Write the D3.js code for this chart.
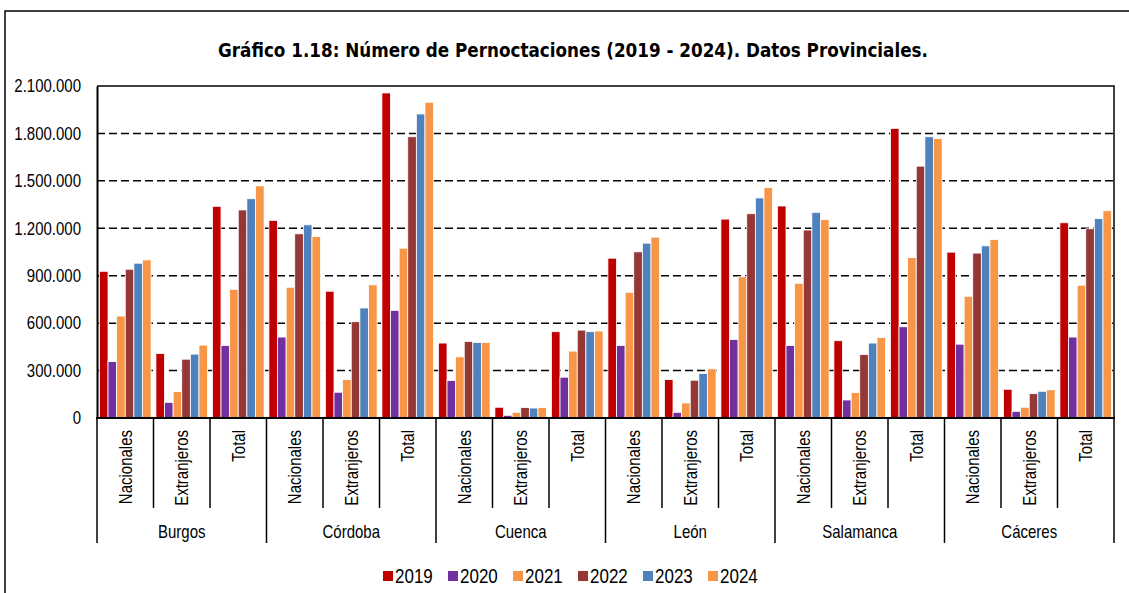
<!DOCTYPE html>
<html>
<head>
<meta charset="utf-8">
<script src="https://cdn.jsdelivr.net/npm/d3@7"></script>
<style>
  body { margin: 0; background: #fff; }
  svg text { font-family: "Liberation Sans", Arial, sans-serif; fill: #000; }
</style>
</head>
<body>
<svg id="chart" width="1129" height="593"></svg>
<script>
// categories
var provinces = ['Burgos', 'Córdoba', 'Cuenca', 'León', 'Salamanca', 'Cáceres'];
var types = ['Nacionales', 'Extranjeros', 'Total'];
var years = ['2019', '2020', '2021', '2022', '2023', '2024'];
var yTicks = [0, 300000, 600000, 900000, 1200000, 1500000, 1800000, 2100000];

// values, province by province, in the order Nacionales / Extranjeros / Total
var v2019 = [928000, 408000, 1339000, 1250000, 802000, 2056000, 474000, 68000, 546000,
  1011000, 243000, 1258000, 1341000, 489000, 1832000, 1049000, 182000, 1235000];
var v2020 = [357000, 99000, 459000, 512000, 163000, 681000, 237000, 17000, 258000,
  459000, 36000, 497000, 459000, 114000, 577000, 467000, 42000, 512000];
var v2021 = [645000, 167000, 814000, 827000, 243000, 1074000, 387000, 36000, 423000,
  795000, 95000, 893000, 852000, 161000, 1015000, 770000, 68000, 840000];
var v2022 = [941000, 372000, 1316000, 1165000, 609000, 1779000, 484000, 66000, 556000,
  1051000, 239000, 1292000, 1189000, 402000, 1593000, 1043000, 154000, 1197000];
var v2023 = [979000, 404000, 1387000, 1222000, 696000, 1923000, 478000, 63000, 546000,
  1106000, 281000, 1392000, 1301000, 474000, 1779000, 1089000, 169000, 1261000];
var v2024 = [1000000, 461000, 1468000, 1148000, 842000, 1997000, 478000, 66000, 550000,
  1144000, 311000, 1457000, 1256000, 510000, 1768000, 1129000, 178000, 1311000];

var series = [v2019, v2020, v2021, v2022, v2023, v2024];
var colors = ['#c00000', '#7030a0', '#f79646', '#953735', '#4f81bd', '#f79646'];

// the source text is drawn a little taller than wide
var stretch = 'scale(1,1.2)';

function drawChart() {
  var svg = d3.select('#chart');
  var plotLeft = 97, plotRight = 1114, plotTop = 86, plotBottom = 418;

  // outer frame (top + left only)
  svg.append('path')
    .attr('d', 'M5,593 L5,11 L1129,11')
    .attr('fill', 'none')
    .attr('stroke', '#000')
    .attr('stroke-width', 1.5);

  // title
  var title = svg.append('text')
    .attr('transform', 'translate(573,50) ' + stretch)
    .attr('dy', '0.36em')
    .attr('text-anchor', 'middle')
    .style('font-family', '"DejaVu Sans", Verdana, sans-serif')
    .style('font-weight', 'bold')
    .style('font-size', '14px')
    .text('Gráfico 1.18: Número de Pernoctaciones (2019 - 2024). Datos Provinciales.');
  var tw = title.node().getComputedTextLength();
  title.style('font-size', (14 * 710 / tw).toFixed(2) + 'px');

  // category list
  var cats = [];
  provinces.forEach((p) => {
    types.forEach((t) => {
      cats.push({ prov: p, type: t, key: p + '|' + t });
    });
  });

  var x0 = d3.scaleBand().domain(cats.map((c) => c.key)).range([plotLeft, plotRight]).padding(0);
  var x1 = d3.scaleBand().domain(years).range([0, x0.bandwidth()]).paddingInner(0).paddingOuter(0.28);
  var y = d3.scaleLinear().domain([0, 2100000]).range([plotBottom, plotTop]);

  var locale = d3.formatLocale({ decimal: ',', thousands: '.', grouping: [3], currency: ['', ''] });
  var fmt = locale.format(',d');

  // gridlines
  svg.append('g')
    .selectAll('line')
    .data(yTicks.filter((t) => t > 0 && t < 2100000))
    .join('line')
    .attr('x1', plotLeft)
    .attr('x2', plotRight)
    .attr('y1', (d) => y(d))
    .attr('y2', (d) => y(d))
    .attr('stroke', '#000')
    .attr('stroke-width', 1.5)
    .attr('stroke-dasharray', '8,4');

  // bars
  var rows = [];
  cats.forEach((c, i) => {
    years.forEach((yr, j) => {
      rows.push({ key: c.key, year: yr, value: series[j][i], color: colors[j] });
    });
  });

  svg.append('g')
    .selectAll('rect')
    .data(rows)
    .join('rect')
    .attr('x', (d) => x0(d.key) + x1(d.year))
    .attr('y', (d) => y(d.value))
    .attr('width', x1.bandwidth())
    .attr('height', (d) => y(0) - y(d.value))
    .attr('fill', (d) => d.color)
    .attr('stroke', '#fff')
    .attr('stroke-width', 0.8);

  // plot frame
  svg.append('path')
    .attr('d', `M${plotLeft},${plotTop} L${plotRight},${plotTop} L${plotRight},${plotBottom}`)
    .attr('fill', 'none')
    .attr('stroke', '#000')
    .attr('stroke-width', 1.5);

  // y axis
  var yAxis = d3.axisLeft(y).tickValues(yTicks).tickSize(0).tickPadding(16).tickFormat(fmt);
  var gy = svg.append('g').attr('transform', `translate(${plotLeft},0)`).call(yAxis);
  gy.select('.domain').attr('stroke', '#000').attr('stroke-width', 2);
  gy.selectAll('text')
    .attr('transform', stretch)
    .style('font-size', '15px')
    .style('font-family', '"Liberation Sans", Arial, sans-serif');

  // x axis line
  svg.append('line')
    .attr('x1', plotLeft - 1)
    .attr('x2', plotRight + 1)
    .attr('y1', plotBottom)
    .attr('y2', plotBottom)
    .attr('stroke', '#000')
    .attr('stroke-width', 2);

  // category separators
  var gx = svg.append('g');
  cats.forEach((c, i) => {
    var xs = x0(c.key);
    var isGroup = i % 3 === 0;
    gx.append('line')
      .attr('x1', xs).attr('x2', xs)
      .attr('y1', plotBottom).attr('y2', isGroup ? 543 : 508)
      .attr('stroke', '#000')
      .attr('stroke-width', 1.5);
  });
  gx.append('line')
    .attr('x1', plotRight).attr('x2', plotRight)
    .attr('y1', plotBottom).attr('y2', 543)
    .attr('stroke', '#000')
    .attr('stroke-width', 1.5);

  // rotated type labels
  gx.selectAll('text.type')
    .data(cats)
    .join('text')
    .attr('class', 'type')
    .attr('transform', (d) => `translate(${x0(d.key) + x0.bandwidth() / 2},430) rotate(-90) ${stretch}`)
    .attr('text-anchor', 'end')
    .attr('dy', '0.35em')
    .style('font-size', '15px')
    .text((d) => d.type);

  // province labels
  var groupW = x0.bandwidth() * 3;
  gx.selectAll('text.prov')
    .data(provinces)
    .join('text')
    .attr('class', 'prov')
    .attr('transform', (d, i) => `translate(${plotLeft + groupW * i + groupW / 2},532) ${stretch}`)
    .attr('dy', '0.35em')
    .attr('text-anchor', 'middle')
    .style('font-size', '15px')
    .text((d) => d);

  // legend
  var legend = svg.append('g').attr('transform', 'translate(383,576)');
  var item = legend.selectAll('g')
    .data(years)
    .join('g')
    .attr('transform', (d, i) => `translate(${i * 65},0)`);
  item.append('rect')
    .attr('x', 0)
    .attr('y', -5)
    .attr('width', 10)
    .attr('height', 10)
    .attr('fill', (d, i) => colors[i]);
  item.append('text')
    .attr('transform', 'translate(12,0) ' + stretch)
    .attr('dy', '0.35em')
    .style('font-size', '17px')
    .text((d) => d);
}

drawChart();
</script>
</body>
</html>
